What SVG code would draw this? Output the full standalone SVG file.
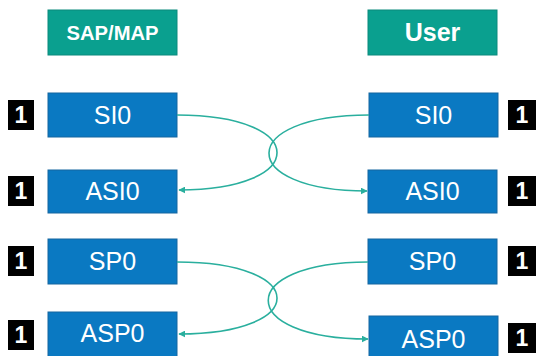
<svg xmlns="http://www.w3.org/2000/svg" width="536" height="356" viewBox="0 0 536 356">
  <defs>
    <marker id="arrow" viewBox="0 0 10 10" refX="9" refY="5" markerWidth="7" markerHeight="7" orient="auto" markerUnits="userSpaceOnUse">
      <path d="M0,0 L10,5 L0,10 z" fill="#2aaf9e"/>
    </marker>
    <style>
      .head { fill: #0aa08f; stroke: #0b8a7c; stroke-width: 1; }
      .head-t { fill: #ffffff; font-family: "Liberation Sans", Arial, sans-serif; font-weight: bold; text-anchor: middle; }
      .box { fill: #0a79c2; stroke: #1466a0; stroke-width: 1; }
      .box-t { fill: #ffffff; font-family: "Liberation Sans", Arial, sans-serif; font-size: 25px; text-anchor: middle; }
      .badge { fill: #000000; }
      .badge-t { fill: #ffffff; font-family: "Liberation Sans", Arial, sans-serif; font-size: 23px; font-weight: bold; text-anchor: middle; }
      .link { fill: none; stroke: #2aaf9e; stroke-width: 1.6; }
    </style>
  </defs>
  <rect width="536" height="356" fill="#ffffff"/>

  <!-- column headers -->
  <g id="hdr-sapmap">
    <rect class="head" x="48" y="10" width="129" height="45"/>
    <text class="head-t" x="112.5" y="40" font-size="20" textLength="92" lengthAdjust="spacingAndGlyphs">SAP/MAP</text>
  </g>
  <g id="hdr-user">
    <rect class="head" x="368" y="10" width="129" height="45"/>
    <text class="head-t" x="432.5" y="41" font-size="25">User</text>
  </g>

  <!-- left column -->
  <g id="l-si0">
    <rect class="badge" x="8" y="100" width="26" height="30"/>
    <text class="badge-t" x="21" y="123">1</text>
    <rect class="box" x="48" y="93" width="129" height="44"/>
    <text class="box-t" x="112.5" y="124">SI0</text>
  </g>
  <g id="l-asi0">
    <rect class="badge" x="8" y="176" width="26" height="30"/>
    <text class="badge-t" x="21" y="199">1</text>
    <rect class="box" x="48" y="170" width="129" height="43"/>
    <text class="box-t" x="112.5" y="200">ASI0</text>
  </g>
  <g id="l-sp0">
    <rect class="badge" x="8" y="246" width="26" height="30"/>
    <text class="badge-t" x="21" y="269">1</text>
    <rect class="box" x="48" y="239" width="129" height="45"/>
    <text class="box-t" x="112.5" y="270">SP0</text>
  </g>
  <g id="l-asp0">
    <rect class="badge" x="8" y="320" width="26" height="30"/>
    <text class="badge-t" x="21" y="343">1</text>
    <rect class="box" x="48" y="312" width="129" height="45"/>
    <text class="box-t" x="112.5" y="342">ASP0</text>
  </g>

  <!-- right column -->
  <g id="r-si0">
    <rect class="box" x="369" y="93" width="129" height="44"/>
    <text class="box-t" x="433.5" y="124">SI0</text>
    <rect class="badge" x="508" y="100" width="28" height="30"/>
    <text class="badge-t" x="522" y="123">1</text>
  </g>
  <g id="r-asi0">
    <rect class="box" x="368" y="170" width="129" height="43"/>
    <text class="box-t" x="432.5" y="200">ASI0</text>
    <rect class="badge" x="508" y="176" width="28" height="30"/>
    <text class="badge-t" x="522" y="199">1</text>
  </g>
  <g id="r-sp0">
    <rect class="box" x="368" y="239" width="129" height="45"/>
    <text class="box-t" x="432.5" y="270">SP0</text>
    <rect class="badge" x="508" y="246" width="28" height="30"/>
    <text class="badge-t" x="522" y="269">1</text>
  </g>
  <g id="r-asp0">
    <rect class="box" x="369" y="316" width="129" height="44"/>
    <text class="box-t" x="433.5" y="348">ASP0</text>
    <rect class="badge" x="508" y="323" width="28" height="30"/>
    <text class="badge-t" x="522" y="346">1</text>
  </g>

  <!-- connectors -->
  <g id="connectors">
    <path class="link" d="M177,115 C310,115 310,190 179,190" marker-end="url(#arrow)"/>
    <path class="link" d="M369,115 C236,115 236,191 367,191" marker-end="url(#arrow)"/>
    <path class="link" d="M177,262 C310,262 310,334 179,334" marker-end="url(#arrow)"/>
    <path class="link" d="M368,262 C235,262 235,339 368,339" marker-end="url(#arrow)"/>
  </g>
</svg>
